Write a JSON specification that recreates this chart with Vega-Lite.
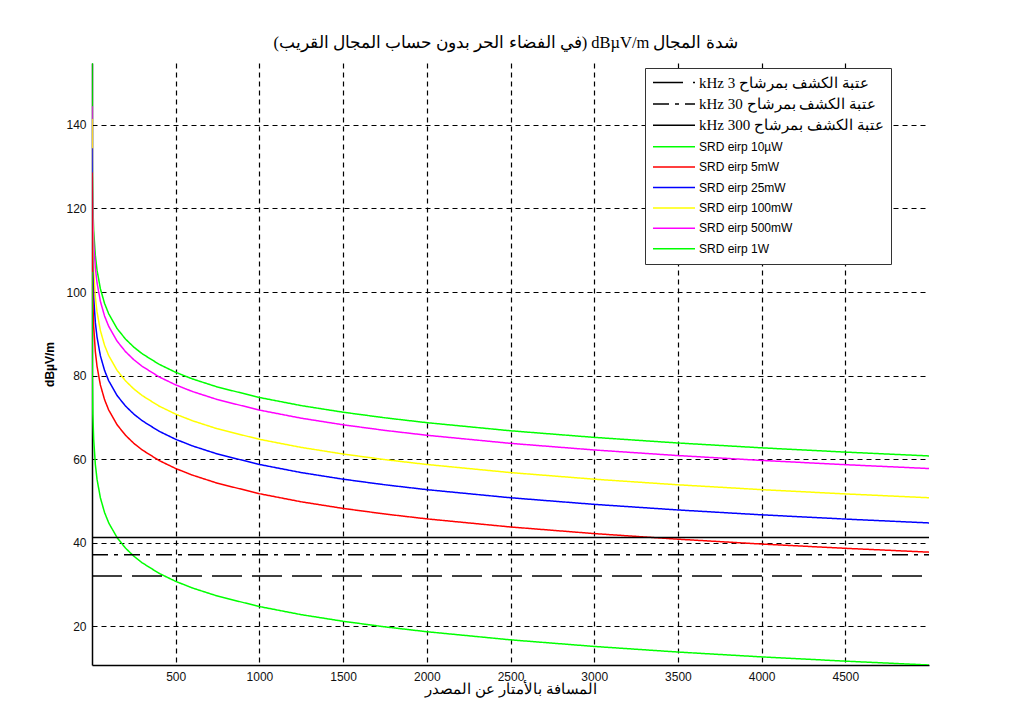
{
  "$schema": "https://vega.github.io/schema/vega-lite/v6.json",
  "autosize": {"type": "none"},
  "width": 837,
  "height": 602,
  "padding": {"left": 92, "top": 63, "right": 87, "bottom": 50},
  "background": "white",
  "title": {
    "text": "\u202bشدة المجال dBµV/m (في الفضاء الحر بدون حساب المجال القريب)\u202c",
    "font": "Liberation Serif",
    "fontSize": 16.5,
    "fontWeight": "normal",
    "color": "black",
    "anchor": "middle",
    "dx": -5,
    "offset": 12
  },
  "datasets": {
    "srd": [
      {"s": "SRD eirp 1W", "d": 0.1, "E": 154.77}, {"s": "SRD eirp 1W", "d": 1, "E": 134.77}, {"s": "SRD eirp 1W", "d": 2, "E": 128.75}, {"s": "SRD eirp 1W", "d": 5, "E": 120.79}, {"s": "SRD eirp 1W", "d": 10, "E": 114.77}, {"s": "SRD eirp 1W", "d": 20, "E": 108.75}, {"s": "SRD eirp 1W", "d": 30, "E": 105.23}, {"s": "SRD eirp 1W", "d": 50, "E": 100.79}, {"s": "SRD eirp 1W", "d": 75, "E": 97.27}, {"s": "SRD eirp 1W", "d": 100, "E": 94.77}, {"s": "SRD eirp 1W", "d": 150, "E": 91.25}, {"s": "SRD eirp 1W", "d": 200, "E": 88.75}, {"s": "SRD eirp 1W", "d": 250, "E": 86.81}, {"s": "SRD eirp 1W", "d": 300, "E": 85.23}, {"s": "SRD eirp 1W", "d": 400, "E": 82.73}, {"s": "SRD eirp 1W", "d": 500, "E": 80.79}, {"s": "SRD eirp 1W", "d": 600, "E": 79.21}, {"s": "SRD eirp 1W", "d": 750, "E": 77.27}, {"s": "SRD eirp 1W", "d": 1000, "E": 74.77}, {"s": "SRD eirp 1W", "d": 1250, "E": 72.83}, {"s": "SRD eirp 1W", "d": 1500, "E": 71.25}, {"s": "SRD eirp 1W", "d": 1750, "E": 69.91}, {"s": "SRD eirp 1W", "d": 2000, "E": 68.75}, {"s": "SRD eirp 1W", "d": 2500, "E": 66.81}, {"s": "SRD eirp 1W", "d": 3000, "E": 65.23}, {"s": "SRD eirp 1W", "d": 3500, "E": 63.89}, {"s": "SRD eirp 1W", "d": 4000, "E": 62.73}, {"s": "SRD eirp 1W", "d": 4500, "E": 61.71}, {"s": "SRD eirp 1W", "d": 5000, "E": 60.79},
      {"s": "SRD eirp 500mW", "d": 0.1, "E": 144.4}, {"s": "SRD eirp 500mW", "d": 1, "E": 131.76}, {"s": "SRD eirp 500mW", "d": 2, "E": 125.74}, {"s": "SRD eirp 500mW", "d": 5, "E": 117.78}, {"s": "SRD eirp 500mW", "d": 10, "E": 111.76}, {"s": "SRD eirp 500mW", "d": 20, "E": 105.74}, {"s": "SRD eirp 500mW", "d": 30, "E": 102.22}, {"s": "SRD eirp 500mW", "d": 50, "E": 97.78}, {"s": "SRD eirp 500mW", "d": 75, "E": 94.26}, {"s": "SRD eirp 500mW", "d": 100, "E": 91.76}, {"s": "SRD eirp 500mW", "d": 150, "E": 88.24}, {"s": "SRD eirp 500mW", "d": 200, "E": 85.74}, {"s": "SRD eirp 500mW", "d": 250, "E": 83.80}, {"s": "SRD eirp 500mW", "d": 300, "E": 82.22}, {"s": "SRD eirp 500mW", "d": 400, "E": 79.72}, {"s": "SRD eirp 500mW", "d": 500, "E": 77.78}, {"s": "SRD eirp 500mW", "d": 600, "E": 76.20}, {"s": "SRD eirp 500mW", "d": 750, "E": 74.26}, {"s": "SRD eirp 500mW", "d": 1000, "E": 71.76}, {"s": "SRD eirp 500mW", "d": 1250, "E": 69.82}, {"s": "SRD eirp 500mW", "d": 1500, "E": 68.24}, {"s": "SRD eirp 500mW", "d": 1750, "E": 66.90}, {"s": "SRD eirp 500mW", "d": 2000, "E": 65.74}, {"s": "SRD eirp 500mW", "d": 2500, "E": 63.80}, {"s": "SRD eirp 500mW", "d": 3000, "E": 62.22}, {"s": "SRD eirp 500mW", "d": 3500, "E": 60.88}, {"s": "SRD eirp 500mW", "d": 4000, "E": 59.72}, {"s": "SRD eirp 500mW", "d": 4500, "E": 58.70}, {"s": "SRD eirp 500mW", "d": 5000, "E": 57.78},
      {"s": "SRD eirp 100mW", "d": 0.1, "E": 141.4}, {"s": "SRD eirp 100mW", "d": 1, "E": 124.77}, {"s": "SRD eirp 100mW", "d": 2, "E": 118.75}, {"s": "SRD eirp 100mW", "d": 5, "E": 110.79}, {"s": "SRD eirp 100mW", "d": 10, "E": 104.77}, {"s": "SRD eirp 100mW", "d": 20, "E": 98.75}, {"s": "SRD eirp 100mW", "d": 30, "E": 95.23}, {"s": "SRD eirp 100mW", "d": 50, "E": 90.79}, {"s": "SRD eirp 100mW", "d": 75, "E": 87.27}, {"s": "SRD eirp 100mW", "d": 100, "E": 84.77}, {"s": "SRD eirp 100mW", "d": 150, "E": 81.25}, {"s": "SRD eirp 100mW", "d": 200, "E": 78.75}, {"s": "SRD eirp 100mW", "d": 250, "E": 76.81}, {"s": "SRD eirp 100mW", "d": 300, "E": 75.23}, {"s": "SRD eirp 100mW", "d": 400, "E": 72.73}, {"s": "SRD eirp 100mW", "d": 500, "E": 70.79}, {"s": "SRD eirp 100mW", "d": 600, "E": 69.21}, {"s": "SRD eirp 100mW", "d": 750, "E": 67.27}, {"s": "SRD eirp 100mW", "d": 1000, "E": 64.77}, {"s": "SRD eirp 100mW", "d": 1250, "E": 62.83}, {"s": "SRD eirp 100mW", "d": 1500, "E": 61.25}, {"s": "SRD eirp 100mW", "d": 1750, "E": 59.91}, {"s": "SRD eirp 100mW", "d": 2000, "E": 58.75}, {"s": "SRD eirp 100mW", "d": 2500, "E": 56.81}, {"s": "SRD eirp 100mW", "d": 3000, "E": 55.23}, {"s": "SRD eirp 100mW", "d": 3500, "E": 53.89}, {"s": "SRD eirp 100mW", "d": 4000, "E": 52.73}, {"s": "SRD eirp 100mW", "d": 4500, "E": 51.71}, {"s": "SRD eirp 100mW", "d": 5000, "E": 50.79},
      {"s": "SRD eirp 25mW", "d": 0.1, "E": 134.4}, {"s": "SRD eirp 25mW", "d": 1, "E": 118.75}, {"s": "SRD eirp 25mW", "d": 2, "E": 112.73}, {"s": "SRD eirp 25mW", "d": 5, "E": 104.77}, {"s": "SRD eirp 25mW", "d": 10, "E": 98.75}, {"s": "SRD eirp 25mW", "d": 20, "E": 92.73}, {"s": "SRD eirp 25mW", "d": 30, "E": 89.21}, {"s": "SRD eirp 25mW", "d": 50, "E": 84.77}, {"s": "SRD eirp 25mW", "d": 75, "E": 81.25}, {"s": "SRD eirp 25mW", "d": 100, "E": 78.75}, {"s": "SRD eirp 25mW", "d": 150, "E": 75.23}, {"s": "SRD eirp 25mW", "d": 200, "E": 72.73}, {"s": "SRD eirp 25mW", "d": 250, "E": 70.79}, {"s": "SRD eirp 25mW", "d": 300, "E": 69.21}, {"s": "SRD eirp 25mW", "d": 400, "E": 66.71}, {"s": "SRD eirp 25mW", "d": 500, "E": 64.77}, {"s": "SRD eirp 25mW", "d": 600, "E": 63.19}, {"s": "SRD eirp 25mW", "d": 750, "E": 61.25}, {"s": "SRD eirp 25mW", "d": 1000, "E": 58.75}, {"s": "SRD eirp 25mW", "d": 1250, "E": 56.81}, {"s": "SRD eirp 25mW", "d": 1500, "E": 55.23}, {"s": "SRD eirp 25mW", "d": 1750, "E": 53.89}, {"s": "SRD eirp 25mW", "d": 2000, "E": 52.73}, {"s": "SRD eirp 25mW", "d": 2500, "E": 50.79}, {"s": "SRD eirp 25mW", "d": 3000, "E": 49.21}, {"s": "SRD eirp 25mW", "d": 3500, "E": 47.87}, {"s": "SRD eirp 25mW", "d": 4000, "E": 46.71}, {"s": "SRD eirp 25mW", "d": 4500, "E": 45.69}, {"s": "SRD eirp 25mW", "d": 5000, "E": 44.77},
      {"s": "SRD eirp 5mW", "d": 0.1, "E": 128.6}, {"s": "SRD eirp 5mW", "d": 1, "E": 111.76}, {"s": "SRD eirp 5mW", "d": 2, "E": 105.74}, {"s": "SRD eirp 5mW", "d": 5, "E": 97.78}, {"s": "SRD eirp 5mW", "d": 10, "E": 91.76}, {"s": "SRD eirp 5mW", "d": 20, "E": 85.74}, {"s": "SRD eirp 5mW", "d": 30, "E": 82.22}, {"s": "SRD eirp 5mW", "d": 50, "E": 77.78}, {"s": "SRD eirp 5mW", "d": 75, "E": 74.26}, {"s": "SRD eirp 5mW", "d": 100, "E": 71.76}, {"s": "SRD eirp 5mW", "d": 150, "E": 68.24}, {"s": "SRD eirp 5mW", "d": 200, "E": 65.74}, {"s": "SRD eirp 5mW", "d": 250, "E": 63.80}, {"s": "SRD eirp 5mW", "d": 300, "E": 62.22}, {"s": "SRD eirp 5mW", "d": 400, "E": 59.72}, {"s": "SRD eirp 5mW", "d": 500, "E": 57.78}, {"s": "SRD eirp 5mW", "d": 600, "E": 56.20}, {"s": "SRD eirp 5mW", "d": 750, "E": 54.26}, {"s": "SRD eirp 5mW", "d": 1000, "E": 51.76}, {"s": "SRD eirp 5mW", "d": 1250, "E": 49.82}, {"s": "SRD eirp 5mW", "d": 1500, "E": 48.24}, {"s": "SRD eirp 5mW", "d": 1750, "E": 46.90}, {"s": "SRD eirp 5mW", "d": 2000, "E": 45.74}, {"s": "SRD eirp 5mW", "d": 2500, "E": 43.80}, {"s": "SRD eirp 5mW", "d": 3000, "E": 42.22}, {"s": "SRD eirp 5mW", "d": 3500, "E": 40.88}, {"s": "SRD eirp 5mW", "d": 4000, "E": 39.72}, {"s": "SRD eirp 5mW", "d": 4500, "E": 38.70}, {"s": "SRD eirp 5mW", "d": 5000, "E": 37.78},
      {"s": "SRD eirp 10µW", "d": 0.1, "E": 104.77}, {"s": "SRD eirp 10µW", "d": 1, "E": 84.77}, {"s": "SRD eirp 10µW", "d": 2, "E": 78.75}, {"s": "SRD eirp 10µW", "d": 5, "E": 70.79}, {"s": "SRD eirp 10µW", "d": 10, "E": 64.77}, {"s": "SRD eirp 10µW", "d": 20, "E": 58.75}, {"s": "SRD eirp 10µW", "d": 30, "E": 55.23}, {"s": "SRD eirp 10µW", "d": 50, "E": 50.79}, {"s": "SRD eirp 10µW", "d": 75, "E": 47.27}, {"s": "SRD eirp 10µW", "d": 100, "E": 44.77}, {"s": "SRD eirp 10µW", "d": 150, "E": 41.25}, {"s": "SRD eirp 10µW", "d": 200, "E": 38.75}, {"s": "SRD eirp 10µW", "d": 250, "E": 36.81}, {"s": "SRD eirp 10µW", "d": 300, "E": 35.23}, {"s": "SRD eirp 10µW", "d": 400, "E": 32.73}, {"s": "SRD eirp 10µW", "d": 500, "E": 30.79}, {"s": "SRD eirp 10µW", "d": 600, "E": 29.21}, {"s": "SRD eirp 10µW", "d": 750, "E": 27.27}, {"s": "SRD eirp 10µW", "d": 1000, "E": 24.77}, {"s": "SRD eirp 10µW", "d": 1250, "E": 22.83}, {"s": "SRD eirp 10µW", "d": 1500, "E": 21.25}, {"s": "SRD eirp 10µW", "d": 1750, "E": 19.91}, {"s": "SRD eirp 10µW", "d": 2000, "E": 18.75}, {"s": "SRD eirp 10µW", "d": 2500, "E": 16.81}, {"s": "SRD eirp 10µW", "d": 3000, "E": 15.23}, {"s": "SRD eirp 10µW", "d": 3500, "E": 13.89}, {"s": "SRD eirp 10µW", "d": 4000, "E": 12.73}, {"s": "SRD eirp 10µW", "d": 4500, "E": 11.71}, {"s": "SRD eirp 10µW", "d": 5000, "E": 10.79}
    ],
    "thr": [
      {"s": "\u202bعتبة الكشف بمرشاح 3 kHz\u202c", "d": 0, "E": 32.1},
      {"s": "\u202bعتبة الكشف بمرشاح 3 kHz\u202c", "d": 5000, "E": 32.1},
      {"s": "\u202bعتبة الكشف بمرشاح 30 kHz\u202c", "d": 0, "E": 37.15},
      {"s": "\u202bعتبة الكشف بمرشاح 30 kHz\u202c", "d": 5000, "E": 37.15},
      {"s": "\u202bعتبة الكشف بمرشاح 300 kHz\u202c", "d": 0, "E": 41.3},
      {"s": "\u202bعتبة الكشف بمرشاح 300 kHz\u202c", "d": 5000, "E": 41.3}
    ]
  },
  "encoding": {
    "x": {
      "field": "d",
      "type": "quantitative",
      "scale": {"domain": [0, 5000], "nice": false, "zero": false},
      "axis": {
        "title": "المسافة بالأمتار عن المصدر",
        "values": [500, 1000, 1500, 2000, 2500, 3000, 3500, 4000, 4500],
        "format": "d",
        "titleFont": "Liberation Serif",
        "titleFontSize": 15,
        "titleFontWeight": "normal",
        "titleColor": "black",
        "titlePadding": -1
      }
    },
    "y": {
      "field": "E",
      "type": "quantitative",
      "scale": {"domain": [10.79, 154.77], "nice": false, "zero": false},
      "axis": {
        "title": "dBµV/m",
        "values": [20, 40, 60, 80, 100, 120, 140],
        "format": "d",
        "titleFont": "Liberation Sans",
        "titleFontSize": 12,
        "titleFontWeight": "bold",
        "titleColor": "black",
        "titlePadding": 9
      }
    },
    "color": {
      "field": "s",
      "type": "nominal",
      "scale": {
        "domain": [
          "\u202bعتبة الكشف بمرشاح 3 kHz\u202c",
          "\u202bعتبة الكشف بمرشاح 30 kHz\u202c",
          "\u202bعتبة الكشف بمرشاح 300 kHz\u202c",
          "SRD eirp 10µW", "SRD eirp 5mW", "SRD eirp 25mW", "SRD eirp 100mW", "SRD eirp 500mW", "SRD eirp 1W"
        ],
        "range": ["#000000", "#000000", "#000000", "#00ff00", "#ff0000", "#0000ff", "#ffff00", "#ff00ff", "#00ff00"]
      },
      "legend": {
        "title": null,
        "orient": "none",
        "legendX": 553,
        "legendY": 5,
        "padding": 7,
        "fillColor": "white",
        "strokeColor": "#333333",
        "symbolType": "stroke",
        "symbolSize": 1764,
        "symbolStrokeWidth": 1.5,
        "labelFont": "Liberation Serif",
        "labelFontSize": 15,
        "labelColor": "black",
        "labelOffset": 3,
        "labelLimit": 400,
        "clipHeight": 15,
        "rowPadding": 5.4,
        "encoding": {
          "labels": {
            "text": {"value": {"expr": "datum.label + '\u2003\u2003'"}},
            "font": {"condition": {"test": "indexof(datum.label, 'SRD') >= 0", "value": "Liberation Sans"}, "value": "Liberation Serif"},
            "fontSize": {"condition": {"test": "indexof(datum.label, 'SRD') >= 0", "value": 12}, "value": 15}
          }
        }
      }
    },
    "strokeDash": {
      "field": "s",
      "type": "nominal",
      "scale": {
        "domain": [
          "\u202bعتبة الكشف بمرشاح 3 kHz\u202c",
          "\u202bعتبة الكشف بمرشاح 30 kHz\u202c",
          "\u202bعتبة الكشف بمرشاح 300 kHz\u202c",
          "SRD eirp 10µW", "SRD eirp 5mW", "SRD eirp 25mW", "SRD eirp 100mW", "SRD eirp 500mW", "SRD eirp 1W"
        ],
        "range": [[30, 10], [16, 6, 4, 6], [1, 0], [1, 0], [1, 0], [1, 0], [1, 0], [1, 0], [1, 0]]
      }
    }
  },
  "layer": [
    {
      "data": {"name": "srd"},
      "mark": {"type": "line", "strokeWidth": 1.5, "clip": true}
    },
    {
      "data": {"name": "thr"},
      "mark": {"type": "line", "strokeWidth": 1.5, "clip": true}
    }
  ],
  "config": {
    "view": {"stroke": null},
    "axis": {
      "domainColor": "#000000",
      "domainWidth": 1.5,
      "ticks": false,
      "grid": true,
      "gridColor": "#000000",
      "gridDash": [5, 4],
      "gridWidth": 1.2,
      "gridOpacity": 1,
      "labelFont": "Liberation Sans",
      "labelFontSize": 12,
      "labelColor": "#111111",
      "labelPadding": 6
    }
  }
}
